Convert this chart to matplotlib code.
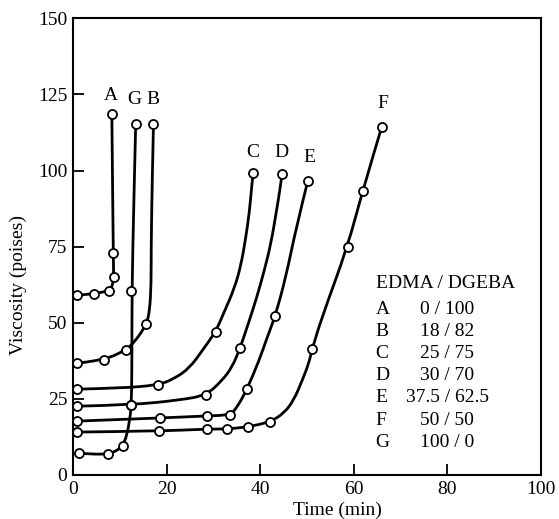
import numpy as np
import matplotlib
matplotlib.use("Agg")
import matplotlib.pyplot as plt
from matplotlib.path import Path
from matplotlib.patches import PathPatch

# Odczytane punkty pomiarowe (czas w min, lepkosc w poise)
curve_names = ["A", "B", "C", "D", "E", "F", "G"]
ratios = ["0 / 100", "18 / 82", "25 / 75", "30 / 70", "37.5 / 62.5", "50 / 50", "100 / 0"]

pts_x = {
    "A": [0.8, 4.5, 7.7, 8.7, 8.6, 8.3],
    "B": [0.9, 6.6, 11.3, 15.7, 17.2],
    "C": [0.9, 18.1, 30.5, 38.5],
    "D": [0.9, 12.5, 28.5, 35.7, 44.7],
    "E": [0.9, 18.5, 28.7, 33.6, 37.2, 43.2, 50.2],
    "F": [0.9, 18.3, 28.7, 33.0, 37.4, 42.1, 51.1, 58.7, 61.9, 66.0],
    "G": [1.3, 7.4, 10.6, 12.5, 12.5, 13.4],
}
pts_y = {
    "A": [59.0, 59.5, 60.5, 65.0, 73.0, 118.5],
    "B": [36.7, 37.7, 41.0, 49.5, 115.4],
    "C": [28.2, 29.5, 47.1, 99.2],
    "D": [22.6, 23.0, 26.2, 41.6, 99.0],
    "E": [17.7, 18.7, 19.4, 19.7, 28.2, 52.1, 96.7],
    "F": [14.1, 14.4, 15.1, 15.1, 15.8, 17.4, 41.3, 75.0, 93.4, 114.4],
    "G": [7.2, 6.9, 9.6, 23.0, 60.3, 115.4],
}

# Przebieg linii (takze miedzy punktami)
line_x = {
    "A": [0.8, 4.5, 7.7, 8.4, 8.7, 8.6, 8.3],
    "B": [0.9, 6.6, 11.3, 13.5, 15.7, 16.4, 16.7, 16.7, 16.9, 17.2],
    "C": [0.9, 10.0, 18.1, 21.5, 24.9, 27.7, 30.5, 32.3, 34.5, 35.9, 36.9, 37.7, 38.2, 38.5],
    "D": [0.9, 12.5, 22.8, 28.5, 31.9, 34.0, 35.7, 37.2, 39.1, 40.9, 42.3, 43.4, 44.2, 44.7],
    "E": [0.9, 18.5, 28.7, 33.6, 35.1, 37.2, 39.8, 41.5, 43.2, 45.5, 47.7, 50.2],
    "F": [0.9, 18.3, 28.7, 33.0, 37.4, 42.1, 45.1, 47.2, 49.0, 50.4, 51.1, 53.2, 58.7, 61.9, 66.0],
    "G": [1.3, 4.0, 7.4, 9.2, 10.6, 11.5, 12.1, 12.5, 12.6, 12.6, 13.0, 13.4],
}
line_y = {
    "A": [59.0, 59.5, 60.5, 62.0, 65.0, 73.0, 118.5],
    "B": [36.7, 37.7, 41.0, 44.3, 49.5, 54.0, 63.0, 73.8, 95.0, 115.4],
    "C": [28.2, 28.5, 29.5, 31.5, 35.1, 41.0, 47.1, 53.5, 61.3, 68.9, 77.7, 86.3, 95.0, 99.2],
    "D": [22.6, 23.0, 24.6, 26.2, 31.1, 35.4, 41.6, 48.5, 57.4, 67.2, 76.0, 85.9, 93.4, 99.0],
    "E": [17.7, 18.7, 19.4, 19.7, 22.3, 28.2, 37.7, 45.2, 52.1, 65.0, 81.3, 96.7],
    "F": [14.1, 14.4, 15.1, 15.1, 15.8, 17.4, 20.3, 24.6, 31.1, 36.7, 41.3, 51.8, 75.0, 93.4, 114.4],
    "G": [7.2, 6.8, 6.9, 7.8, 9.6, 13.0, 18.0, 23.0, 40.0, 60.3, 90.0, 115.4],
}

# Etykiety krzywych
label_pos = {
    "A": (8.1, 124.6), "G": (13.0, 123.3), "B": (17.0, 123.3),
    "C": (38.5, 106.0), "D": (44.5, 106.0), "E": (50.6, 104.3), "F": (66.2, 122.0),
}


def smooth_path(xs, ys):
    # wierzcholki jako punkty kontrolne krzywych Beziera (CURVE3)
    v = list(zip(xs, ys))
    verts = [v[0]]
    codes = [Path.MOVETO]
    for i in range(1, len(v) - 1):
        if i < len(v) - 2:
            end = ((v[i][0] + v[i + 1][0]) / 2, (v[i][1] + v[i + 1][1]) / 2)
        else:
            end = v[-1]
        verts += [v[i], end]
        codes += [Path.CURVE3, Path.CURVE3]
    if len(v) == 2:
        verts.append(v[1])
        codes.append(Path.LINETO)
    return Path(verts, codes)


plt.rcParams['font.family'] = ['Liberation Serif', 'DejaVu Serif']
fs = 14

fig = plt.figure(figsize=(5.59, 5.19), dpi=100)
ax = fig.add_axes([0.1306, 0.0848, 0.837, 0.88])

for name in curve_names:
    patch = PathPatch(smooth_path(line_x[name], line_y[name]), fill=False,
                      edgecolor='black', lw=2.0, zorder=2, capstyle='round', joinstyle='round')
    ax.add_patch(patch)
    ax.plot(pts_x[name], pts_y[name], linestyle='none', marker='o', ms=6.5,
            mfc='white', mec='black', mew=1.3, zorder=3)
    lx, ly = label_pos[name]
    ax.text(lx, ly, name, ha='center', va='center', fontsize=fs)

# Legenda jako tekst
ax.text(64.7, 63.0, "EDMA / DGEBA", ha='left', va='center', fontsize=fs)
for i, (name, r) in enumerate(zip(curve_names, ratios)):
    yy = 54.4 - i * 7.27
    ax.text(64.7, yy, name, ha='left', va='center', fontsize=fs)
    ax.text(80.0, yy, r, ha='center', va='center', fontsize=fs)

ax.set_xlim(0, 100)
ax.set_ylim(0, 150)
ax.set_xticks([0, 20, 40, 60, 80, 100])
ax.set_yticks([0, 25, 50, 75, 100, 125, 150])
ax.tick_params(direction='in', length=8, width=1.3, labelsize=fs, pad=4)
for s in ax.spines.values():
    s.set_linewidth(1.5)

ax.set_xlabel("Time (min)", fontsize=fs)
ax.set_ylabel("Viscosity (poises)", fontsize=fs)
ax.xaxis.set_label_coords(0.566, -0.058)
ax.yaxis.set_label_coords(-0.098, 0.415)

fig.savefig("out.png", dpi=100)
